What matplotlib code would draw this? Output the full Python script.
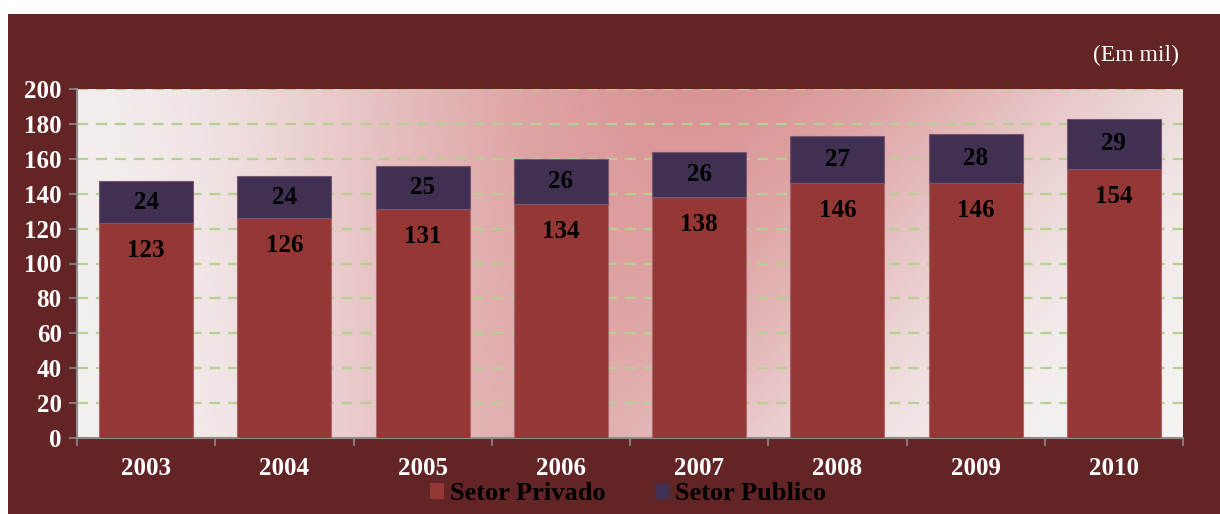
import numpy as np
import matplotlib
matplotlib.use("Agg")
import matplotlib.pyplot as plt
from matplotlib.patches import Rectangle

# data (em mil)
years = ['2003', '2004', '2005', '2006', '2007', '2008', '2009', '2010']
privado = [123, 126, 131, 134, 138, 146, 146, 154]
publico = [24, 24, 25, 26, 26, 27, 28, 29]

maroon = '#622424'
c_priv = '#953735'
c_pub = '#403152'

plt.rcParams['font.family'] = ['Liberation Serif', 'DejaVu Serif']

fig = plt.figure(figsize=(12.2, 5.14), dpi=100)
fig.patch.set_facecolor('white')
# maroon frame behind everything
fig.patches.append(Rectangle((8 / 1220, 0), 1, 500 / 514, transform=fig.transFigure,
                             facecolor=maroon, edgecolor='none', zorder=-10))

ax = fig.add_axes([77 / 1220, 76 / 514, 1106 / 1220, 349 / 514])
ax.set_facecolor('none')

# gradient plot background: pink band, darkest at top middle, fading to the sides
gx, gy = np.meshgrid(np.linspace(0, 1, 400), np.linspace(0, 1, 200))
centre = 0.43 + 0.14 * gy
spread = 0.06 + 0.08 * gy
w = (0.72 + 0.28 * gy) * np.exp(-((gx - centre) ** 2) / spread)
# keep the far left and lower right corners pale
w = w * (1 - 0.5 * np.exp(-(gx ** 2) / 0.02)) * (1 - 0.45 * np.exp(-((gx - 1) ** 2) / 0.03 - (gy ** 2) / 0.3))
light = np.array([0.96, 0.95, 0.95])
pink = np.array([0.855, 0.58, 0.585])
img = light[None, None, :] * (1 - w[..., None]) + pink[None, None, :] * w[..., None]
ax.imshow(img, extent=(-0.5, len(years) - 0.5, 0, 200), origin='lower',
          aspect='auto', zorder=0)

x = np.arange(len(years))
bw = 0.68
ax.bar(x, privado, bw, color=c_priv, edgecolor='#A86A6E', linewidth=0.8,
       label='Setor Privado', zorder=3)
ax.bar(x, publico, bw, bottom=privado, color=c_pub, edgecolor='#7A5470',
       linewidth=0.8, label='Setor Publico', zorder=3)

for i in range(len(years)):
    ax.annotate(str(privado[i]), (x[i], privado[i]), xytext=(0, -27),
                textcoords='offset pixels', ha='center', va='center',
                fontsize=18, fontweight='bold', color='black', zorder=5)
    ax.text(x[i], privado[i] + publico[i] / 2, str(publico[i]), ha='center',
            va='center', fontsize=18, fontweight='bold', color='black', zorder=5)

ax.set_xlim(-0.5, len(years) - 0.5)
ax.set_ylim(0, 200)
ax.set_yticks(range(0, 201, 20))
ax.yaxis.grid(True, color='#B5D190', linestyle=(0, (5, 3.5)), linewidth=1.6, zorder=1)
ax.set_axisbelow(True)

ax.set_xticks(x)
ax.set_xticklabels(years)
ax.set_xticks(np.arange(-0.5, len(years)), minor=True)
ax.tick_params(axis='x', which='major', length=0, pad=14)
ax.tick_params(axis='x', which='minor', length=6, color='#8C8C8C', width=1.2)
ax.tick_params(axis='y', length=6, color='#8C8C8C', width=1.2, pad=5)
for lab in ax.get_xticklabels() + ax.get_yticklabels():
    lab.set_color('white')
    lab.set_fontweight('bold')
    lab.set_fontsize(18)

for s in ['top', 'right']:
    ax.spines[s].set_visible(False)
for s in ['left', 'bottom']:
    ax.spines[s].set_color('#8C8C8C')
    ax.spines[s].set_linewidth(1.5)

fig.text(1179 / 1220, 1 - 55 / 514, '(Em mil)', ha='right', va='center',
         color='white', fontsize=17)

leg = fig.legend(loc='center', bbox_to_anchor=(628 / 1220, 1 - 494 / 514), ncol=2,
                 frameon=False, handlelength=0.55, handleheight=0.55,
                 handletextpad=0.2, columnspacing=1.9,
                 prop={'size': 19, 'weight': 'bold'})
for h in leg.legend_handles:
    h.set_edgecolor('none')

fig.savefig('out.png', dpi=100, facecolor=fig.get_facecolor())
